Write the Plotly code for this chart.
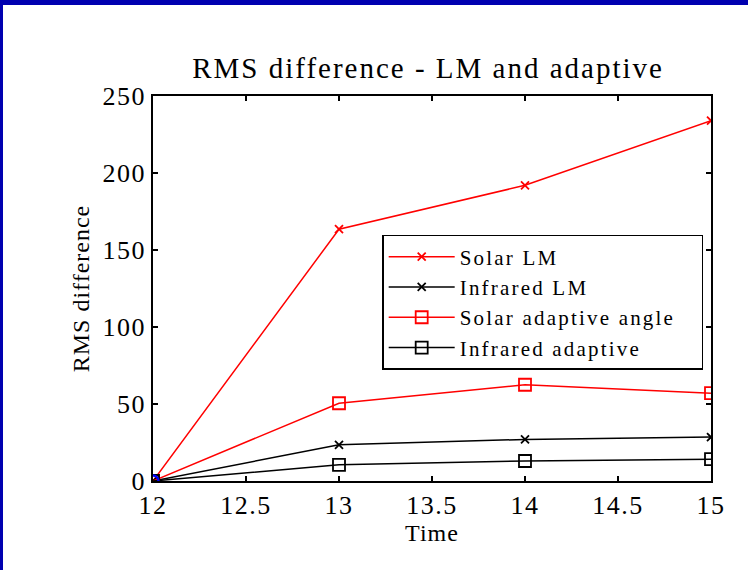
import plotly.graph_objects as go

time = [12, 13, 14, 15]
solar_lm = [0, 163.5, 192, 234]
infrared_lm = [0, 23.5, 27, 28.5]
solar_adaptive = [0, 50.5, 62.5, 57]
infrared_adaptive = [0, 10.5, 13, 14.2]
origin_x = [12]
origin_y = [0]
x_tick_vals = [12, 12.5, 13, 13.5, 14, 14.5, 15]
x_tick_text = ["12", "12.5", "13", "13.5", "14", "14.5", "15"]
y_tick_vals = [0, 50, 100, 150, 200, 250]
y_tick_text = ["0", "50", "100", "150", "200", "250"]

FONT = "Liberation Serif"


def sp(t, px):
    return '<span style="letter-spacing:%spx">%s</span>' % (px, t)


fig = go.Figure()
series = [
    ("Solar LM", solar_lm, "red", "x-thin-open", 8),
    ("Infrared LM", infrared_lm, "black", "x-thin-open", 8),
    ("Solar adaptive angle", solar_adaptive, "red", "square-open", 12),
    ("Infrared adaptive", infrared_adaptive, "black", "square-open", 12),
]
for name, vals, col, sym, sz in series:
    fig.add_trace(go.Scatter(
        x=time, y=vals, name=sp(name, 2.2) + "&nbsp;" * 4, mode="lines+markers",
        line=dict(color=col, width=1.5),
        marker=dict(symbol=sym, size=sz, color=col, line=dict(color=col, width=1.8)),
    ))
fig.add_trace(go.Scatter(
    x=origin_x, y=origin_y, mode="markers", showlegend=False,
    marker=dict(symbol="circle-open", size=11, color="blue", line=dict(color="blue", width=2.5)),
))

axis_common = dict(
    showgrid=False, zeroline=False, showline=True, linecolor="black", linewidth=1.5,
    mirror="allticks", ticks="inside", ticklen=5, tickwidth=1.5, tickcolor="black",
    tickfont=dict(family=FONT, size=26, color="black"), automargin=False,
)
fig.update_xaxes(range=[12, 15], tickvals=x_tick_vals, ticktext=[sp(t, 1.5) for t in x_tick_text],
                 title=dict(text=sp("Time", 1), font=dict(family=FONT, size=24, color="black"), standoff=4),
                 **axis_common)
fig.update_yaxes(range=[0, 250], tickvals=y_tick_vals, ticktext=[sp(t, 1.5) for t in y_tick_text],
                 title=dict(text=sp("RMS difference", 1), font=dict(family=FONT, size=24, color="black"), standoff=6),
                 **axis_common)

fig.update_layout(
    width=748, height=570,
    margin=dict(l=153, r=37, t=96, b=89),
    paper_bgcolor="white", plot_bgcolor="white",
    title=dict(text=sp("RMS difference - LM and adaptive", 2), x=0.493, xref="paper", xanchor="center",
               y=0.881, yanchor="middle",
               font=dict(family=FONT, size=29, color="black")),
    legend=dict(x=0.986, y=0.639, xanchor="right", yanchor="top", bgcolor="white",
                bordercolor="black", borderwidth=1.5,
                font=dict(family=FONT, size=21, color="black"), tracegroupgap=0,
                itemwidth=66),
)
# blue frame strips (top and left)
fig.add_shape(type="rect", xref="paper", yref="paper",
              x0=-153/558, x1=(748-153)/558, y0=(570-89-5)/385, y1=(570-89)/385,
              fillcolor="#0000b0", line_width=0, layer="above")
fig.add_shape(type="rect", xref="paper", yref="paper",
              x0=-153/558, x1=(-153+3)/558, y0=-89/385, y1=(570-89)/385,
              fillcolor="#0000b0", line_width=0, layer="above")

fig.write_html("out.html", config={"displayModeBar": False},
               post_script="document.body.style.margin='0';")
